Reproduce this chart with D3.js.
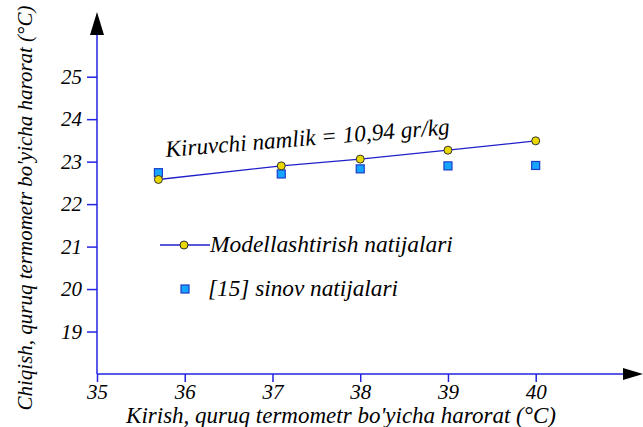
<!DOCTYPE html>
<html>
<head>
<meta charset="utf-8">
<script src="https://cdn.jsdelivr.net/npm/d3@7"></script>
</head>
<body style="margin:0">
<svg id="chart" width="643" height="427" font-family="Liberation Serif" font-style="italic"></svg>
<script>
// Inlet dry-bulb temperature (°C)
const inletTemp = [35.7, 37.1, 38, 39, 40];
// Modelled outlet temperature (°C)
const modelOut = [22.58, 22.90, 23.06, 23.27, 23.49];
// Measured outlet temperature, test [15] (°C)
const testOut = [22.74, 22.71, 22.83, 22.90, 22.91];
const xTicks = [35, 36, 37, 38, 39, 40];
const yTicks = [19, 20, 21, 22, 23, 24, 25];
const seriesNames = ["Modellashtirish natijalari", "[15] sinov natijalari"];
const annotation = "Kiruvchi namlik = 10,94 gr/kg";
const xTitle = "Kirish, quruq termometr bo'yicha harorat (°C)";
const yTitle = "Chiqish, quruq termometr bo'yicha harorat (°C)";

const svg = d3.select("#chart");
const axisColor = "#2323e0";
const FONT = "Liberation Serif";

// Italic serif text; when a width is given the size is tuned to span it
function addText(parent, str, size, width) {
  const t = parent.append("text")
    .attr("font-family", FONT)
    .attr("font-style", "italic")
    .attr("font-size", size)
    .text(str);
  if (width) {
    const w = t.node().getComputedTextLength();
    if (w > 0) t.attr("font-size", (size * width / w).toFixed(2));
  }
  return t;
}

const x = d3.scaleLinear().domain([35, 40]).range([97, 535.7]);
const y = d3.scaleLinear().domain([18, 25]).range([374, 76.7]);

// Axes
const xAxis = svg.append("g").attr("transform", `translate(0,${y(18)})`)
  .call(d3.axisBottom(x).tickValues(xTicks).tickSize(8).tickPadding(2).tickFormat(d3.format("d")));
const yAxis = svg.append("g").attr("transform", `translate(${x(35)},0)`)
  .call(d3.axisLeft(y).tickValues(yTicks).tickSize(10).tickPadding(5).tickFormat(d3.format("d")));
[xAxis, yAxis].forEach(g => {
  g.attr("font-family", FONT).attr("font-size", 21);
  g.select(".domain").remove();
  g.selectAll(".tick line").attr("stroke", axisColor).attr("stroke-width", 1.5);
  g.selectAll(".tick text")
    .attr("font-family", FONT)
    .attr("font-style", "italic")
    .attr("font-size", 21)
    .attr("fill", "#000");
});

// Axis lines with arrowheads
svg.append("line").attr("x1", x(35)).attr("y1", y(18)).attr("x2", 625).attr("y2", y(18))
  .attr("stroke", axisColor).attr("stroke-width", 1.5);
svg.append("path").attr("d", `M623,${y(18) - 6}L643,${y(18)}L623,${y(18) + 6}Z`).attr("fill", "#000");
svg.append("line").attr("x1", x(35)).attr("y1", y(18)).attr("x2", x(35)).attr("y2", 32)
  .attr("stroke", axisColor).attr("stroke-width", 1.5);
svg.append("path").attr("d", `M${x(35) - 7},35L${x(35)},12L${x(35) + 7},35Z`).attr("fill", "#000");

// Axis titles
addText(svg, xTitle, 20, 430).attr("x", 341).attr("y", 423).attr("text-anchor", "middle");
addText(svg, yTitle, 20, 405).attr("text-anchor", "middle")
  .attr("transform", "translate(32,208) rotate(-90)");

// Model line + markers
const modelPts = inletTemp.map((t, i) => [t, modelOut[i]]);
svg.append("path").datum(modelPts)
  .attr("d", d3.line().x(d => x(d[0])).y(d => y(d[1])))
  .attr("fill", "none").attr("stroke", "#2020c8").attr("stroke-width", 1.3);

// Test squares
const sq = 8;
svg.selectAll("rect.test").data(inletTemp.map((t, i) => [t, testOut[i]])).enter()
  .append("rect").attr("class", "test")
  .attr("x", d => x(d[0]) - sq / 2).attr("y", d => y(d[1]) - sq / 2)
  .attr("width", sq).attr("height", sq)
  .attr("fill", "#16a6ff").attr("stroke", "#1a3cc8").attr("stroke-width", 1.2);

svg.selectAll("circle.model").data(modelPts).enter()
  .append("circle").attr("class", "model")
  .attr("cx", d => x(d[0])).attr("cy", d => y(d[1])).attr("r", 4)
  .attr("fill", "#e8d800").attr("stroke", "#333").attr("stroke-width", 1);

// Annotation
addText(svg, annotation, 21, 285).attr("transform", "translate(166,157) rotate(-4.6)");

// Legend
const lg = svg.append("g");
lg.append("line").attr("x1", 160).attr("x2", 210).attr("y1", 245).attr("y2", 245)
  .attr("stroke", "#2020c8").attr("stroke-width", 1.3);
lg.append("circle").attr("cx", 184).attr("cy", 245).attr("r", 4)
  .attr("fill", "#e8d800").attr("stroke", "#333").attr("stroke-width", 1);
addText(lg, seriesNames[0], 21, 243).attr("x", 210).attr("y", 252);
lg.append("rect").attr("x", 185 - sq / 2).attr("y", 289 - sq / 2).attr("width", sq).attr("height", sq)
  .attr("fill", "#16a6ff").attr("stroke", "#1a3cc8").attr("stroke-width", 1.2);
addText(lg, seriesNames[1], 21, 190).attr("x", 208).attr("y", 296);
</script>
</body>
</html>
